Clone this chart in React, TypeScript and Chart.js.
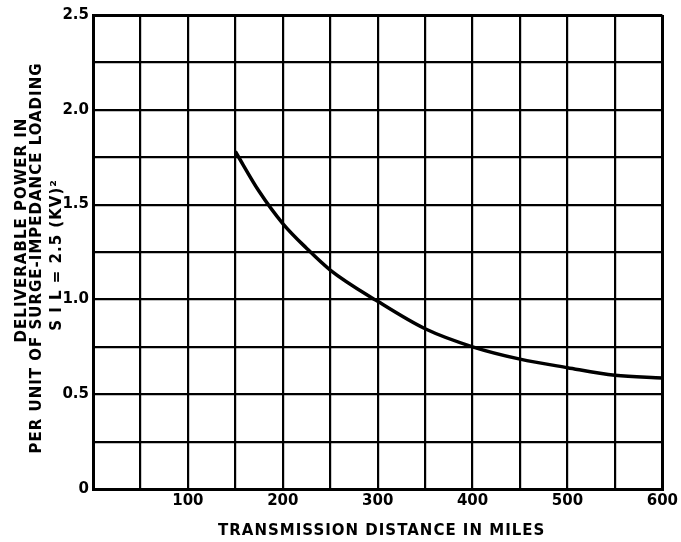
import React, { useEffect, useRef } from 'react';
import { Chart, registerables } from 'chart.js';

Chart.register(...registerables);

// ---- data ----
const distanceMiles = [150, 175, 200, 225, 250, 300, 350, 400, 450, 500, 550, 600];
const powerPerUnitSIL = [1.78, 1.57, 1.4, 1.27, 1.155, 0.99, 0.845, 0.75, 0.685, 0.64, 0.6, 0.585];
const xTickLabels = [100, 200, 300, 400, 500, 600];
const yTickLabels = [0, 0.5, 1.0, 1.5, 2.0, 2.5];
const xTitle = 'TRANSMISSION DISTANCE IN MILES';
const yTitleLines = ['DELIVERABLE POWER IN', 'PER UNIT OF SURGE-IMPEDANCE LOADING', 'S I L = 2.5 (KV)²'];

const FONT = '"DejaVu Sans", sans-serif';

const titlePlugin = {
  id: 'handTitles',
  afterDraw(chart: any) {
    const { ctx, chartArea } = chart;
    ctx.save();
    ctx.fillStyle = '#000';
    ctx.font = `bold 15px ${FONT}`;
    try { ctx.letterSpacing = '1px'; } catch (e) {}
    ctx.textAlign = 'center';
    ctx.textBaseline = 'alphabetic';
    ctx.fillText(xTitle, (chartArea.left + chartArea.right) / 2 + 4, chartArea.bottom + 46);
    const baseX = [26, 41, 61];
    const centerY = [230, 258, 255];
    yTitleLines.forEach((line, i) => {
      ctx.save();
      ctx.translate(baseX[i], centerY[i]);
      ctx.rotate(-Math.PI / 2);
      ctx.fillText(line, 0, 0);
      ctx.restore();
    });
    ctx.restore();
  },
};

export default function App() {
  const canvasRef = useRef<HTMLCanvasElement | null>(null);

  useEffect(() => {
    if (!canvasRef.current) return;
    const points = distanceMiles.map((x, i) => ({ x, y: powerPerUnitSIL[i] }));
    const chart = new Chart(canvasRef.current, {
      type: 'line',
      data: {
        datasets: [
          {
            data: points,
            borderColor: '#000',
            borderWidth: 3.5,
            pointRadius: 0,
            cubicInterpolationMode: 'monotone',
            fill: false,
          },
        ],
      },
      options: {
        animation: false,
        responsive: false,
        devicePixelRatio: 1,
        layout: { padding: { left: 0, top: 15, right: 18, bottom: 0 } },
        plugins: {
          legend: { display: false },
          tooltip: { enabled: false },
          title: { display: false },
        },
        scales: {
          x: {
            type: 'linear',
            min: 0,
            max: 600,
            afterFit: (s: any) => { s.height = 53; },
            ticks: {
              stepSize: 50,
              autoSkip: false,
              maxRotation: 0,
              padding: 3,
              color: '#000',
              font: { family: FONT, size: 15, weight: 'bold' },
              callback: (v: any) => (xTickLabels.includes(Number(v)) ? String(v) : ''),
            },
            grid: {
              color: '#000',
              drawTicks: false,
              lineWidth: (c: any) => (c.tick && (c.tick.value === 0 || c.tick.value === 600) ? 3 : 2.2),
            },
            border: { display: true, color: '#000', width: 3 },
          },
          y: {
            type: 'linear',
            min: 0,
            max: 2.5,
            afterFit: (s: any) => { s.width = 93; },
            ticks: {
              stepSize: 0.25,
              autoSkip: false,
              padding: 4,
              color: '#000',
              font: { family: FONT, size: 15, weight: 'bold' },
              callback: (v: any) => {
                const n = Number(v);
                const match = yTickLabels.find((t) => Math.abs(t - n) < 1e-6);
                if (match === undefined) return '';
                return match === 0 ? '0' : match.toFixed(1);
              },
            },
            grid: {
              color: '#000',
              drawTicks: false,
              lineWidth: (c: any) => (c.tick && (Math.abs(c.tick.value - 2.5) < 1e-6 || c.tick.value === 0) ? 3 : 2.2),
            },
            border: { display: true, color: '#000', width: 3 },
          },
        },
      },
      plugins: [titlePlugin],
    } as any);
    return () => chart.destroy();
  }, []);

  return (
    <div style={{ position: 'absolute', left: 0, top: 0, width: 681, height: 542, background: '#fff' }}>
      <canvas ref={canvasRef} width={681} height={542} style={{ width: 681, height: 542, display: 'block' }} />
    </div>
  );
}
